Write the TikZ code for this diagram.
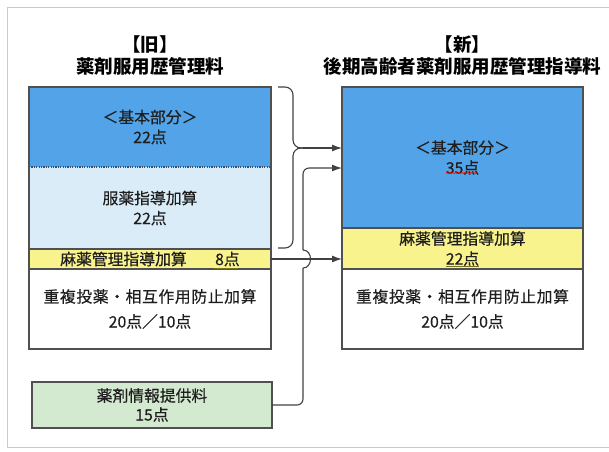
\documentclass[tikz,border=0pt]{standalone}
\usepackage{fontspec}
\setmainfont{Noto Sans CJK JP}
\newfontfamily\medfont{Noto Sans CJK JP}[FakeBold=0.35]
\usetikzlibrary{arrows.meta,decorations.pathmorphing}
\definecolor{bblue}{RGB}{82,163,232}
\definecolor{lblue}{RGB}{218,236,248}
\definecolor{yel}{RGB}{248,243,140}
\definecolor{grn}{RGB}{212,234,208}
\definecolor{edgec}{RGB}{80,80,80}
\definecolor{framec}{RGB}{200,206,186}
\definecolor{connc}{RGB}{65,65,65}
\definecolor{dotc}{RGB}{60,80,110}
\definecolor{textc}{RGB}{30,30,30}
\begin{document}
\begin{tikzpicture}[x=1pt,y=-1pt,
  sec/.style={draw=none, inner sep=0pt, outer sep=0pt, anchor=north west, align=center, text=textc},
  body/.style={font=\medfont\fontsize{15.8}{20}\selectfont},
  bodywide/.style={font=\medfont\fontsize{15.8}{25}\selectfont},
  ttl/.style={font=\bfseries\fontsize{18.5}{22}\selectfont, align=center, text=black},
  boxedge/.style={draw=edgec, line width=1.1pt},
  connline/.style={draw=connc, line width=1.1pt},
  arr/.style={connline, -{Latex[length=10pt,width=7pt]}}
]
\fill[white] (0,0) rectangle (609,451);
\useasboundingbox (0,0) rectangle (609,451);
% outer frame
\draw[framec, line width=1pt] (612,7) -- (7,7) -- (7,447) -- (612,447);

% titles
\node[ttl] (tl) at (150,56) {【旧】\\薬剤服用歴管理料};
\node[ttl] (tr) at (462.5,56) {【新】\\後期高齢者薬剤服用歴管理指導料};

% left column
\node[sec, body, fill=bblue, minimum width=242pt, minimum height=80pt] (lb1) at (29,87) {＜基本部分＞\\22点};
\node[sec, body, fill=lblue, minimum width=242pt, minimum height=82pt] (lb2) at (29,167) {服薬指導加算\\22点};
\node[sec, body, fill=yel, minimum width=242pt, minimum height=20pt] (lb3) at (29,249) {麻薬管理指導加算\hspace{1.8em}8点};
\node[sec, bodywide, fill=white, minimum width=242pt, minimum height=80pt] (lb4) at (29,269) {{\addfontfeature{LetterSpace=4}重複投薬・相互作用防止加算}\\20点／10点};
\draw[boxedge] (lb1.north west) rectangle (lb4.south east);
\draw[dotc, line width=1.2pt, dash pattern=on 1.1pt off 1.3pt] (lb1.south west) -- (lb1.south east);
\draw[boxedge] (lb3.north west) -- (lb3.north east);
\draw[boxedge] (lb3.south west) -- (lb3.south east);

% right column
\node[sec, body, fill=bblue, minimum width=241pt, minimum height=141pt] (rb1) at (342,87) {＜基本部分＞\\35点};
\node[sec, body, fill=yel, minimum width=241pt, minimum height=41pt] (rb2) at (342,228) {麻薬管理指導加算\\22点};
\node[sec, bodywide, fill=white, minimum width=241pt, minimum height=80pt] (rb3) at (342,269) {{\addfontfeature{LetterSpace=4}重複投薬・相互作用防止加算}\\20点／10点};
\draw[boxedge] (rb1.north west) rectangle (rb3.south east);
\draw[boxedge] (rb2.north west) -- (rb2.north east);
\draw[boxedge] (rb2.south west) -- (rb2.south east);

% green box
\node[sec, font=\medfont\fontsize{15.8}{19}\selectfont, fill=grn, boxedge, minimum width=240pt, minimum height=46pt] (gr) at (32,382) {薬剤情報提供料\\15点};

% underline marks
\draw[red!85!orange, line width=0.8pt, decorate, decoration={snake, amplitude=0.5pt, segment length=3pt}] (446,173) -- (477,173);
\draw[olive!80!black, line width=0.9pt] (446,266) -- (479,266);
\draw[olive!80!black, line width=0.9pt] (214,268) -- (238,268);

% brace and connectors
\coordinate (bt) at (303,148);
\draw[connline, rounded corners=8pt] (278,87) -- (293,87) -- (293,148) -- (bt);
\draw[connline, rounded corners=8pt] (278,248) -- (293,248) -- (293,148) -- (bt);
\draw[arr] (bt) -- (bt -| rb1.west);

\coordinate (ga) at (303,168);
\draw[connline, rounded corners=6pt] (gr.east) -- (gr.east -| ga) -- (303,268);
\draw[connline] (303,268) .. controls (313,268) and (313,250) .. (303,250);
\draw[arr, rounded corners=6pt] (303,250) -- (ga) -- (ga -| rb1.west);

\draw[arr] (lb3.east) -- (lb3.east -| rb1.west);
\end{tikzpicture}
\end{document}
